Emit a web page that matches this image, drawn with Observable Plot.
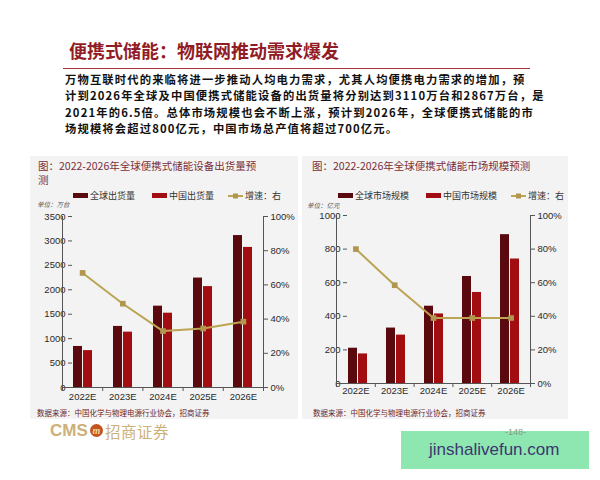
<!DOCTYPE html>
<html><head><meta charset="utf-8">
<script src="https://cdn.jsdelivr.net/npm/d3@7"></script>
<script src="https://cdn.jsdelivr.net/npm/@observablehq/plot@0.6"></script>
<style>
html,body{margin:0;padding:0;background:#fff;}
body{width:600px;height:480px;position:relative;overflow:hidden;font-family:"Noto Sans CJK SC",sans-serif;}
.a{position:absolute;white-space:nowrap;}
.title{left:69px;top:39px;font-size:18px;font-weight:700;color:#921c26;line-height:22px;}
.hr{left:63px;top:68px;width:467px;height:0;border-top:1.5px solid #a8323a;}
.pl{left:65px;font-size:11.3px;letter-spacing:1.15px;font-weight:700;color:#111;line-height:15px;height:15px;}
.panel{background:#f3f3f3;}
.ptitle{font-size:10.5px;color:#7a2e3a;line-height:14px;}
.leg{font-size:9px;color:#333;display:flex;align-items:center;}
.sw{display:inline-block;width:15px;height:5px;margin-right:2px;}
.unit{font-size:6.5px;color:#555;font-style:italic;}
.src{font-size:7.5px;color:#6e1e24;}
.chart{position:absolute;}
.chart svg{position:absolute;left:0;top:0;}
</style></head><body>
<div class="a title">便携式储能：物联网推动需求爆发</div>
<div class="a hr"></div>
<div class="a pl" style="top:71.5px;">万物互联时代的来临将进一步推动人均电力需求，尤其人均便携电力需求的增加，预</div>
<div class="a pl" style="top:88px;">计到2026年全球及中国便携式储能设备的出货量将分别达到3110万台和2867万台，是</div>
<div class="a pl" style="top:104.5px;">2021年的6.5倍。总体市场规模也会不断上涨，预计到2026年，全球便携式储能的市</div>
<div class="a pl" style="top:121px;">场规模将会超过800亿元，中国市场总产值将超过700亿元。</div>

<div class="a panel" style="left:30px;top:156px;width:268px;height:263px;"></div>
<div class="a panel" style="left:302px;top:156px;width:266px;height:263px;"></div>

<div class="a ptitle" style="left:38px;top:159px;">图：2022-2026年全球便携式储能设备出货量预</div>
<div class="a ptitle" style="left:38px;top:173px;">测</div>
<div class="a ptitle" style="left:312px;top:159px;">图：2022-2026年全球便携式储能市场规模预测</div>

<div class="a leg" id="leg1" style="left:73px;top:189px;"></div>
<div class="a leg" id="leg2" style="left:338px;top:189px;"></div>

<div class="a unit" style="left:37px;top:199px;">单位：万台</div>
<div class="a unit" style="left:307px;top:200px;">单位：亿元</div>

<div class="chart" id="c1" style="left:30px;top:205px;width:268px;height:205px;"></div>
<div class="chart" id="c2" style="left:302px;top:205px;width:266px;height:201px;"></div>

<div class="a src" style="left:37px;top:407px;">数据来源：中国化学与物理电源行业协会，招商证券</div>
<div class="a src" style="left:313px;top:407px;">数据来源：中国化学与物理电源行业协会，招商证券</div>

<div class="a" style="left:50px;top:421px;font-family:'Liberation Sans',Arial,sans-serif;font-size:17px;font-weight:700;color:#cdb07a;">CMS</div>
<div class="a" style="left:90px;top:424px;width:13px;height:13px;border-radius:50%;background:#c4531f;color:#f3d9a0;font-size:10px;line-height:13px;text-align:center;font-style:italic;font-weight:700;font-family:'Liberation Serif',serif;">m</div>
<div class="a" style="left:105px;top:420px;font-size:15.5px;color:#cdb07a;letter-spacing:0.5px;">招商证券</div>

<div class="a" style="left:401px;top:431px;width:188px;height:38px;background:#8ee6b0;"></div>
<div class="a" style="left:505px;top:427px;font-family:'Liberation Sans',Arial,sans-serif;font-size:9px;color:#7f9f8a;">-148-</div>
<div class="a" style="left:429px;top:440px;font-family:'Liberation Sans',Arial,sans-serif;font-size:17px;color:#3c3672;">jinshalivefun.com</div>

<script>
// ---- data ----
const years = ["2022E","2023E","2024E","2025E","2026E"];
const seriesKeys = ["global","china"];
const colors = ["#5a0a0f","#a10d10"];
const lineColor = "#bba552";
const markerColor = "#b0964f";

const shipLabels = ["全球出货量","中国出货量","增速：右"];
const shipGlobal = [840,1250,1665,2240,3110];
const shipChina  = [755,1133,1521,2065,2867];
const shipGrowth = [0.67,0.49,0.33,0.345,0.385];
const shipTicks  = [0,500,1000,1500,2000,2500,3000,3500];

const mktLabels = ["全球市场规模","中国市场规模","增速：右"];
const mktGlobal = [210,330,460,637,886];
const mktChina  = [176,288,414,542,741];
const mktGrowth = [0.80,0.585,0.39,0.39,0.39];
const mktTicks  = [0,200,400,600,800,1000];

const pctTicks = [0,0.2,0.4,0.6,0.8,1.0];

function legend(el, labels){
  const d = document.getElementById(el);
  let html = "";
  html += `<span class="sw" style="background:${colors[0]}"></span><span style="margin-right:17px">${labels[0]}</span>`;
  html += `<span class="sw" style="background:${colors[1]}"></span><span style="margin-right:14px">${labels[1]}</span>`;
  html += `<svg width="15" height="6" style="margin-right:2px"><line x1="0" y1="3" x2="15" y2="3" stroke="${lineColor}" stroke-width="2"/><rect x="5" y="0.5" width="5" height="5" fill="${markerColor}"/></svg><span>${labels[2]}</span>`;
  d.innerHTML = html;
}

function makeChart(id, global, china, growth, yTicks, m, pi, xPad){
  const el = document.getElementById(id);
  const w = parseFloat(el.style.width), h = parseFloat(el.style.height);
  const yMax = yTicks[yTicks.length-1];
  const rows = [];
  years.forEach((yr,i)=>{
    rows.push({year:yr, series:"global", value:global[i]});
    rows.push({year:yr, series:"china", value:china[i]});
  });
  const common = {width:w, height:h, marginLeft:m[0], marginRight:m[1], marginTop:m[2], marginBottom:m[3],
    style:{background:"transparent", fontSize:"9.5px", fontFamily:"'Liberation Sans',Arial,sans-serif", color:"#2a2a2a", overflow:"visible"}};
  const A = Plot.plot({...common,
    fx:{domain:years, paddingInner:pi, paddingOuter:pi/2, axis:null, label:null},
    x:{domain:seriesKeys, padding:0.1, axis:null, label:null},
    y:{domain:[0,yMax], axis:null, label:null},
    color:{domain:seriesKeys, range:colors},
    marks:[
      Plot.barY(rows,{fx:"year", x:"series", y:"value", fill:"series"}),
      Plot.axisY({ticks:yTicks, tickSize:4, tickPadding:3, tickFormat:d3.format("d"), label:null, stroke:"#555"})
    ]});
  const lineData = growth.map((g,i)=>({pos:i+0.5, g}));
  const B = Plot.plot({...common,
    x:{domain:[0,years.length], label:null, axis:null},
    y:{domain:[0,1], label:null, axis:null},
    marks:[
      Plot.ruleY([0],{stroke:"#555"}),
      Plot.ruleX([0, years.length],{stroke:"#555"}),
      Plot.axisX({ticks:d3.range(0,years.length+1), tickSize:4, tickFormat:()=>"", label:null, stroke:"#555"}),
      Plot.axisX({ticks:years.map((d,i)=>i+0.5), tickSize:0, tickPadding:xPad, tickFormat:v=>years[Math.floor(v)], label:null}),
      Plot.axisY({anchor:"right", ticks:pctTicks, tickSize:4, tickPadding:3, tickFormat:d3.format(".0%"), label:null, stroke:"#555"}),
      Plot.line(lineData,{x:"pos", y:"g", stroke:lineColor, strokeWidth:2}),
      Plot.dot(lineData,{x:"pos", y:"g", symbol:"square", r:3.2, fill:markerColor, stroke:"none"})
    ]});
  el.appendChild(A);
  el.appendChild(B);
}

legend("leg1", shipLabels);
legend("leg2", mktLabels);
makeChart("c1", shipGlobal, shipChina, shipGrowth, shipTicks, [32,35,11,23], 0.48, 6);
makeChart("c2", mktGlobal, mktChina, mktGrowth, mktTicks, [34,38,10,23], 0.46, 4);
</script>
</body></html>
